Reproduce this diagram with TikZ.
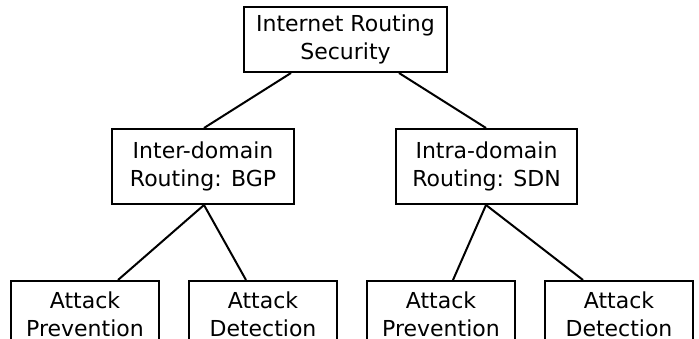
\documentclass[tikz,border=0pt]{standalone}
\usepackage{fontspec}
\setmainfont{DejaVu Sans}
\usetikzlibrary{calc}
\newcommand{\twolines}[2]{\raisebox{27pt}{\begin{tabular}{@{}c@{}}#1\\#2\end{tabular}}}
\begin{document}
\begin{tikzpicture}[x=1pt,y=-1pt,
  box/.style={draw=black,line width=2pt,inner sep=0pt,align=center,
    font=\fontsize{22}{28}\selectfont},
  leaf/.style={box,minimum width=148pt,minimum height=75pt},
  link/.style={draw=black,line width=2pt}]
\useasboundingbox (0,0) rectangle (699,339);
\node[box,minimum width=203pt,minimum height=65pt] (root) at (345.5,39.5) {Internet Routing\\Security};
\node[box,minimum width=182pt,minimum height=75pt] (inter) at (203,166.5) {Inter-domain\\Routing: BGP};
\node[box,minimum width=181pt,minimum height=75pt] (intra) at (486.5,166.5) {Intra-domain\\Routing: SDN};
\node[leaf] (ap1) at (85,318.5) {\twolines{Attack}{Prevention}};
\node[leaf] (ad1) at (263,318.5) {\twolines{Attack}{Detection}};
\node[leaf] (ap2) at (441,318.5) {\twolines{Attack}{Prevention}};
\node[leaf] (ad2) at (619,318.5) {\twolines{Attack}{Detection}};
\draw[link] ([xshift=-54.5pt]root.south) -- ([xshift=1pt]inter.north);
\draw[link] ([xshift=53.5pt]root.south) -- ([xshift=-0.5pt]intra.north);
\draw[link] ([xshift=1pt]inter.south) -- ([xshift=33pt]ap1.north);
\draw[link] ([xshift=1pt]inter.south) -- ([xshift=-17pt]ad1.north);
\draw[link] ([xshift=-0.5pt]intra.south) -- ([xshift=12pt]ap2.north);
\draw[link] ([xshift=-0.5pt]intra.south) -- ([xshift=-36pt]ad2.north);
\end{tikzpicture}
\end{document}
